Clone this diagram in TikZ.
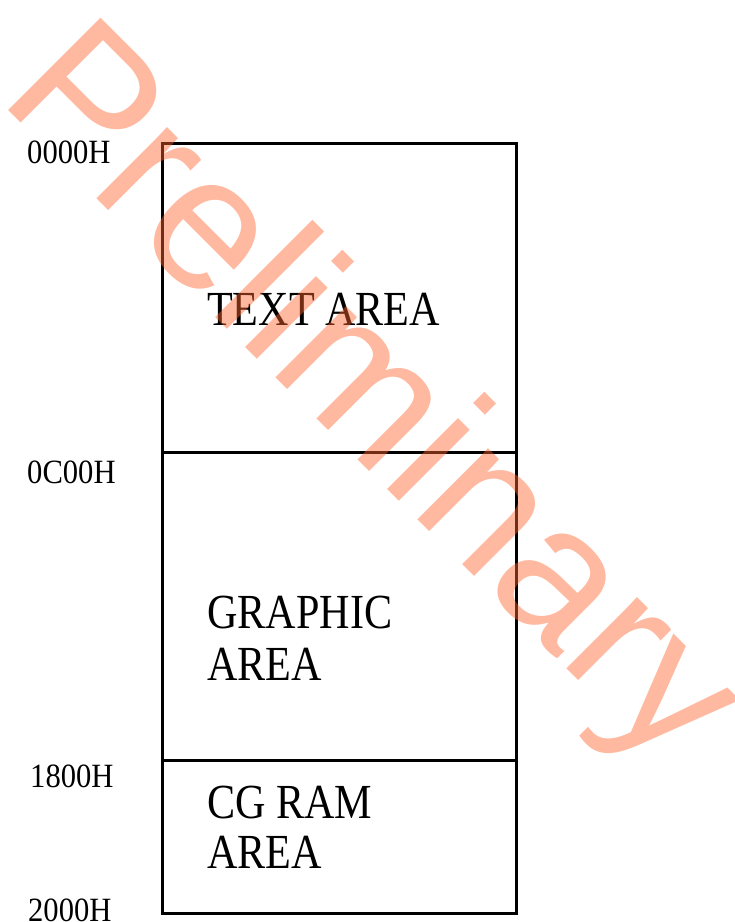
\documentclass[tikz,border=0pt]{standalone}
\usepackage{fontspec}
\setmainfont{Liberation Serif}
\newfontfamily\areafont[FakeStretch=0.86]{Liberation Serif}
\newfontfamily\addrfont[FakeStretch=0.9]{Liberation Serif}
\newfontfamily\wmfont{Liberation Sans}
\definecolor{wmorange}{RGB}{255,100,45}
\begin{document}
\begin{tikzpicture}[x=1pt,y=-1pt,
  region/.style={draw, line width=3pt, anchor=north west, minimum width=354pt,
    inner sep=0pt, outer sep=0pt},
  addr/.style={anchor=base west, inner sep=0pt, font=\addrfont\fontsize{34}{38}\selectfont},
  area/.style={anchor=base west, inner sep=0pt, align=left,
    font=\areafont\fontsize{49}{52}\selectfont},
  wm/.style={anchor=base west, inner sep=0pt, rotate=-45, text=wmorange,
    text opacity=0.45, font=\wmfont\fontsize{190}{190}\selectfont}]
\useasboundingbox (0,0) rectangle (735,922);
% memory regions
\node[region, minimum height=309pt] (textreg) at (162,143) {};
\node[region, minimum height=308pt] (graphreg) at (162,452) {};
\node[region, minimum height=153pt] (cgreg) at (162,760) {};
% region names (anchored at the baseline of the last line)
\node[area] (textlbl) at (207,325) {TEXT AREA};
\node[area] (graphlbl) at (207,680) {GRAPHIC\\AREA};
\node[area] (cglbl) at (207,868) {CG RAM\\[-2pt]AREA};
% addresses
\node[addr] (a0) at (27,163) {0000H};
\node[addr] (a1) at (27,483) {0C00H};
\node[addr] (a2) at (30,787) {1800H};
\node[addr] (a3) at (28,921) {2000H};
% watermark
\node[wm] (wmark) at (-2.3,99.7) {Preliminary};
\end{tikzpicture}
\end{document}
